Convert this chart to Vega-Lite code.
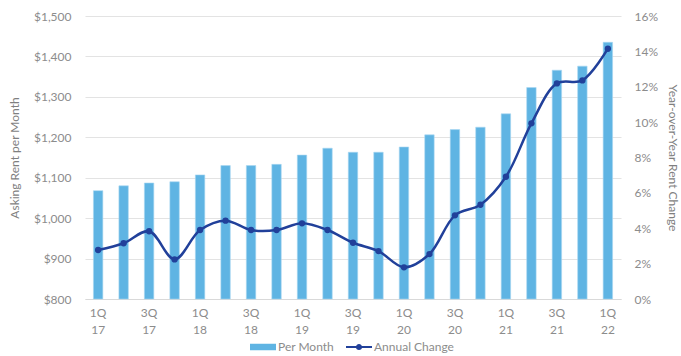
{
  "$schema": "https://vega.github.io/schema/vega-lite/v6.json",
  "width": 536,
  "height": 283,
  "autosize": {"type": "none"},
  "padding": {"left": 85, "top": 16, "right": 60, "bottom": 57},
  "background": "white",
  "config": {
    "view": {"stroke": null},
    "font": "Lato",
    "axis": {"labelFont": "Lato", "titleFont": "Lato", "labelColor": "#8c8c8c", "titleColor": "#7f7f7f", "labelFontSize": 12, "titleFontSize": 12, "titleFontWeight": "normal", "ticks": false, "labelOverlap": false},
    "legend": {"labelFont": "Lato", "labelColor": "#8c8c8c", "labelFontSize": 12, "padding": 0}
  },
  "data": {"values": [
    {"q": "1Q 17", "rent": 1068, "chg": 2.77},
    {"q": "2Q 17", "rent": 1080, "chg": 3.15},
    {"q": "3Q 17", "rent": 1087, "chg": 3.83},
    {"q": "4Q 17", "rent": 1090, "chg": 2.24},
    {"q": "1Q 18", "rent": 1107, "chg": 3.9},
    {"q": "2Q 18", "rent": 1130, "chg": 4.43},
    {"q": "3Q 18", "rent": 1130, "chg": 3.9},
    {"q": "4Q 18", "rent": 1133, "chg": 3.9},
    {"q": "1Q 19", "rent": 1156, "chg": 4.28},
    {"q": "2Q 19", "rent": 1173, "chg": 3.9},
    {"q": "3Q 19", "rent": 1163, "chg": 3.18},
    {"q": "4Q 19", "rent": 1163, "chg": 2.71},
    {"q": "1Q 20", "rent": 1176, "chg": 1.79},
    {"q": "2Q 20", "rent": 1206, "chg": 2.54},
    {"q": "3Q 20", "rent": 1219, "chg": 4.73},
    {"q": "4Q 20", "rent": 1225, "chg": 5.33},
    {"q": "1Q 21", "rent": 1258, "chg": 6.91},
    {"q": "2Q 21", "rent": 1323, "chg": 9.93},
    {"q": "3Q 21", "rent": 1366, "chg": 12.19},
    {"q": "4Q 21", "rent": 1376, "chg": 12.36},
    {"q": "1Q 22", "rent": 1435, "chg": 14.15}
  ]},
  "encoding": {
    "x": {
      "field": "q", "type": "nominal", "sort": null,
      "scale": {"paddingInner": 0.63, "paddingOuter": 0.33},
      "axis": {
        "title": null, "labelAngle": 0, "domainColor": "#d9d9d9", "labelPadding": 8, "labelLineHeight": 17,
        "values": ["1Q 17", "3Q 17", "1Q 18", "3Q 18", "1Q 19", "3Q 19", "1Q 20", "3Q 20", "1Q 21", "3Q 21", "1Q 22"],
        "labelExpr": "split(datum.label, ' ')"
      }
    }
  },
  "layer": [
    {
      "mark": {"type": "bar", "stroke": "#a9d6f2", "strokeWidth": 0.6},
      "encoding": {
        "y": {
          "field": "rent", "type": "quantitative",
          "scale": {"domain": [800, 1500], "zero": false, "nice": false},
          "axis": {"title": "Asking Rent per Month", "format": "$,.0f", "values": [800, 900, 1000, 1100, 1200, 1300, 1400, 1500], "domain": false, "gridColor": "#e3e3e3", "labelPadding": 14, "titlePadding": 12}
        },
        "y2": {"datum": 800},
        "color": {
          "datum": "Per Month", "type": "nominal",
          "scale": {"domain": ["Per Month"], "range": ["#5fb4e3"]},
          "legend": {
            "title": null, "orient": "none", "legendX": 165, "legendY": 318, "direction": "horizontal",
            "symbolSize": 676, "symbolStrokeWidth": 0, "labelOffset": 2,
            "symbolType": "M-1,-0.25H1V0.25H-1Z"
          }
        }
      }
    },
    {
      "mark": {"type": "line", "interpolate": "catmull-rom", "strokeWidth": 2.5, "point": {"filled": true, "size": 40, "color": "#21409a"}},
      "encoding": {
        "y": {
          "field": "chg", "type": "quantitative",
          "scale": {"domain": [0, 16], "nice": false},
          "axis": {"orient": "right", "title": "Year-over-Year Rent Change", "values": [0, 2, 4, 6, 8, 10, 12, 14, 16], "labelExpr": "datum.value + '%'", "grid": false, "domain": false, "labelPadding": 13, "titlePadding": 8}
        },
        "color": {
          "datum": "Annual Change", "type": "nominal",
          "scale": {"domain": ["Annual Change"], "range": ["#21409a"]},
          "legend": {
            "title": null, "orient": "none", "legendX": 261, "legendY": 318, "direction": "horizontal",
            "symbolSize": 676, "symbolStrokeWidth": 0, "labelOffset": 2, "symbolFillColor": "#21409a",
            "symbolType": "M-1,-0.08H1V0.08H-1Z M-0.24,0A0.24,0.24 0 1,1 0.24,0A0.24,0.24 0 1,1 -0.24,0Z"
          }
        }
      }
    }
  ],
  "resolve": {"scale": {"y": "independent", "color": "independent"}}
}
